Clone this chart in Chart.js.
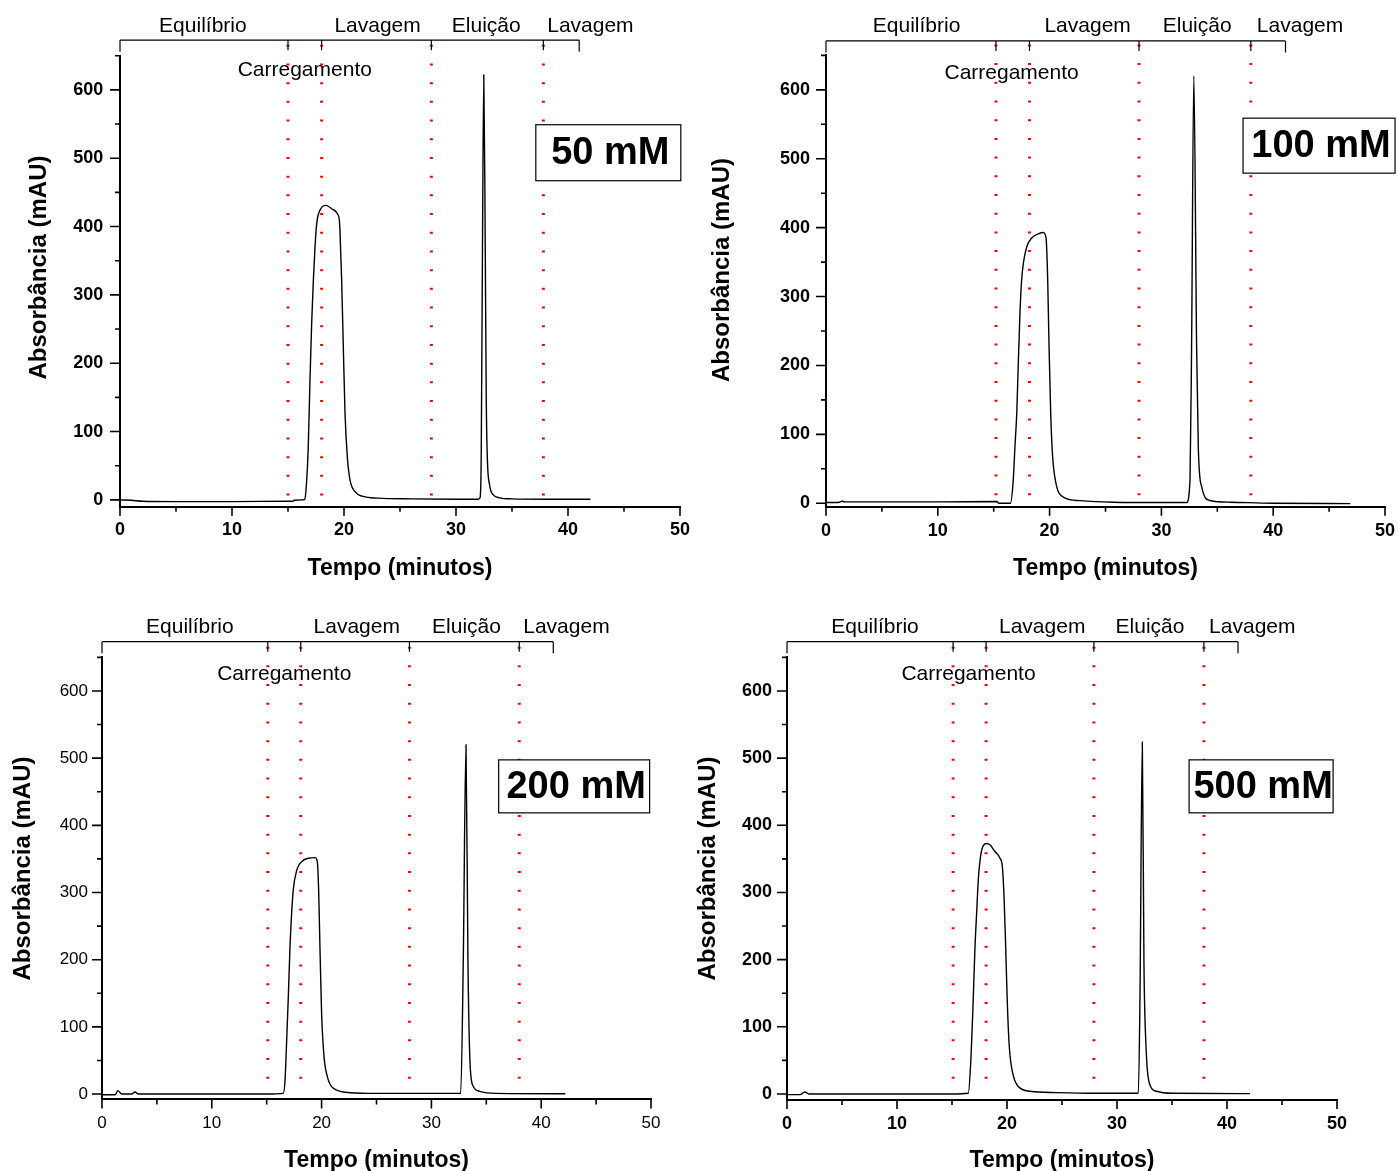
<!DOCTYPE html>
<html><head><meta charset="utf-8">
<script src="https://cdn.jsdelivr.net/npm/chart.js@4"></script>
<style>
html,body{margin:0;padding:0;background:#fff;width:1398px;height:1171px;overflow:hidden;position:relative}
canvas{position:absolute}
</style></head><body>
<canvas id="c1"></canvas><canvas id="c2"></canvas><canvas id="c3"></canvas><canvas id="c4"></canvas>
<script>
const FONT = '"Liberation Sans", Arial, Helvetica, sans-serif';

// ---- data (time in minutes, absorbance in mAU) ----
const t50 = [0,1,2,5,10,15,15.45,15.55,16.3,16.5,16.67,16.81,16.96,17.11,17.26,17.41,17.56,17.86,18.39,18.9,19.44,19.58,19.64,19.79,19.94,20.09,20.3,20.54,20.98,21.7,23,26,30,32.0,32.15,32.25,32.35,32.48,32.6,32.7,32.8,33.0,33.3,33.9,35,38,42];
const a50 = [0,-0.5,-2,-2.5,-2.5,-2,-2,-0.5,0,1,29,78,174,257,320,369,404,424,431,426,418,410,394,322,223,127,62,29,12,5,2.5,1.5,1,1,3,60,330,622,400,150,60,22,8,3,1.5,1,1];

const t100 = [0,1.2,1.4,1.7,5,10,15.3,15.45,16.5,16.75,16.9,17.06,17.2,17.35,17.5,17.65,17.95,18.4,19.0,19.44,19.68,19.83,19.95,20.1,20.27,20.57,21.23,22.7,25.7,30,32.26,32.56,32.7,32.9,33.15,33.3,33.6,34.35,36.2,40,46.9];
const a100 = [1,1.5,3,2,2,2,2.5,0,0,34,82,130,203,276,324,348,372,385,391,393,385,324,227,130,68,29,9,3.8,1.5,1,1,34,227,620,227,82,24,4,1.5,0,-0.5];

const t200 = [0,1.2,1.45,1.8,2.7,3.0,3.3,5,10,15,16.51,16.67,16.82,16.97,17.12,17.27,17.42,17.73,18.19,18.79,19.4,19.61,19.73,19.85,20.0,20.22,20.52,21.07,22.6,25,30,32.67,32.9,33.15,33.33,33.52,33.8,34.4,36,42.2];
const a200 = [-1,-1,5,0,0,3,0,0,0,0,1,21,80,145,219,269,304,333,346,351,352,346,304,219,120,56,26,8.5,2,1,1,1,195,520,195,46,12,4,1,0.5];

const t500 = [0,1.2,1.6,2.0,5,10,15,16.48,16.7,16.85,16.94,17.09,17.24,17.39,17.55,17.79,18.15,18.45,18.9,19.36,19.58,19.73,19.88,20.03,20.21,20.52,21.03,22.1,24.5,28,31.94,32.09,32.3,32.45,32.64,32.94,33.6,35,42.1];
const a500 = [-1,-1,3,0,0,0,0,1,46,105,145,219,269,319,348,368,373,371,361,351,338,294,219,135,70,31,11,4,2,1,1,145,524,195,70,16,4,1,0.5];

// phase boundaries (minutes)
const marks50 = [15, 18, 27.8, 37.8];
const marks100 = [15.2, 18.2, 28, 38];
const marks200 = [15.1, 18.1, 28, 38];
const marks500 = [15.1, 18.1, 27.9, 37.9];

const stageNames = ['Equilíbrio', 'Carregamento', 'Lavagem', 'Eluição', 'Lavagem'];
const concLabels = ['50 mM', '100 mM', '200 mM', '500 mM'];
const xTicks = [0, 10, 20, 30, 40, 50];
const yTicks = [0, 100, 200, 300, 400, 500, 600];
const xTitle = 'Tempo (minutos)';
const yTitle = 'Absorbância (mAU)';

// ---- layout ----
const panels = [
  {id:'c1', t:t50, a:a50, marks:marks50, box:concLabels[0],
   canvas:{left:0,top:0,w:699,h:590}, area:{left:120,right:680,top:55.7,bottom:506.7}, yMin:-10,
   stageX:[7.4,16.5,23.0,32.7,42.0], bracketEnd:41, bracketGap:15.5, carrY:20.5,
   boxC:[43.6,508], boxW:145, boxH:56, bold:true, tickSize:18, yPad:16.7, xPad:12.5,
   yTitlePos:[39,267.5], xTitlePad:9.5},
  {id:'c2', t:t100, a:a100, marks:marks100, box:concLabels[1],
   canvas:{left:700,top:0,w:698,h:590}, area:{left:826,right:1385,top:55.4,bottom:506.7}, yMin:-5,
   stageX:[8.1,16.6,23.4,33.2,42.4], bracketEnd:41.1, bracketGap:14.5, carrY:23.5,
   boxC:[44.1,519], boxW:152, boxH:55, bold:true, tickSize:18, yPad:16, xPad:13.5,
   yTitlePos:[722,270], xTitlePad:9.5},
  {id:'c3', t:t200, a:a200, marks:marks200, box:concLabels[2],
   canvas:{left:0,top:590,w:690,h:581}, area:{left:102,right:651,top:657.4,bottom:1099.4}, yMin:-8,
   stageX:[8.0,16.6,23.2,33.2,42.3], bracketEnd:41.1, bracketGap:15.7, carrY:22.5,
   boxC:[43.0,458], boxW:151, boxH:53, bold:false, tickSize:17, yPad:14, xPad:14,
   yTitlePos:[23,868.5], xTitlePad:-1.5},
  {id:'c4', t:t500, a:a500, marks:marks500, box:concLabels[3],
   canvas:{left:690,top:590,w:708,h:581}, area:{left:787,right:1337,top:657.4,bottom:1100}, yMin:-9,
   stageX:[8.0,16.5,23.2,33.0,42.3], bracketEnd:41, bracketGap:15.7, carrY:22.5,
   boxC:[43.1,458], boxW:144, boxH:53, bold:true, tickSize:18, yPad:15, xPad:13.5,
   yTitlePos:[708,868.5], xTitlePad:-1.5}
];

function makeOverlay(p) {
  return {
    id: 'overlay',
    afterDraw(chart) {
      const {ctx, chartArea: ca, scales: {x, y}} = chart;
      ctx.save();
      ctx.strokeStyle = '#000'; ctx.fillStyle = '#000';
      // axis ticks (major + minor)
      ctx.lineWidth = 1.6;
      ctx.beginPath();
      for (let v = 0; v <= 50; v += 5) {
        const px = x.getPixelForValue(v);
        const len = v % 10 === 0 ? 9 : 5;
        ctx.moveTo(px, ca.bottom); ctx.lineTo(px, ca.bottom + len);
      }
      for (let v = 0; v <= 650; v += 50) {
        const py = y.getPixelForValue(v);
        const len = v % 100 === 0 ? 10 : 5;
        ctx.moveTo(ca.left, py); ctx.lineTo(ca.left - len, py);
      }
      ctx.stroke();
      // phase bracket
      const yl = ca.top - p.bracketGap;
      ctx.lineWidth = 1.2;
      ctx.beginPath();
      ctx.moveTo(x.getPixelForValue(0), yl); ctx.lineTo(x.getPixelForValue(p.bracketEnd), yl);
      const bt = [0, ...p.marks, p.bracketEnd];
      bt.forEach((v, i) => {
        const px = x.getPixelForValue(v);
        const len = (i === 0 || i === bt.length - 1) ? 11.5 : 10;
        ctx.moveTo(px, yl); ctx.lineTo(px, yl + len);
      });
      ctx.stroke();
      // phase names
      ctx.font = '21px ' + FONT;
      ctx.textAlign = 'center'; ctx.textBaseline = 'alphabetic';
      stageNames.forEach((s, i) => {
        const px = x.getPixelForValue(p.stageX[i]);
        if (i === 1) ctx.fillText(s, px, ca.top + p.carrY);
        else ctx.fillText(s, px, yl - 8.5);
      });
      // concentration box
      const cx = x.getPixelForValue(p.boxC[0]), cy = y.getPixelForValue(p.boxC[1]);
      ctx.fillStyle = '#fff';
      ctx.fillRect(cx - p.boxW / 2, cy - p.boxH / 2, p.boxW, p.boxH);
      ctx.lineWidth = 1.2; ctx.strokeStyle = '#000';
      ctx.strokeRect(cx - p.boxW / 2, cy - p.boxH / 2, p.boxW, p.boxH);
      ctx.fillStyle = '#000';
      ctx.font = 'bold 38px ' + FONT;
      ctx.textBaseline = 'middle';
      ctx.fillText(p.box, cx + 2, cy + 1);
      // y axis title
      ctx.translate(p.yTitlePos[0] - p.canvas.left, p.yTitlePos[1] - p.canvas.top);
      ctx.rotate(-Math.PI / 2);
      ctx.font = 'bold 24px ' + FONT;
      ctx.textBaseline = 'middle'; ctx.textAlign = 'center';
      ctx.fillText(yTitle, 0, 0);
      ctx.restore();
    }
  };
}

panels.forEach(p => {
  const cv = document.getElementById(p.id);
  cv.width = p.canvas.w; cv.height = p.canvas.h;
  cv.style.left = p.canvas.left + 'px'; cv.style.top = p.canvas.top + 'px';
  cv.style.width = p.canvas.w + 'px'; cv.style.height = p.canvas.h + 'px';
  const yW = p.area.left - p.canvas.left;
  const xH = p.canvas.top + p.canvas.h - p.area.bottom;
  const tickFont = {family: FONT, size: p.tickSize, weight: p.bold ? 'bold' : 'normal', lineHeight: 1.2};
  const datasets = [
    {data: p.t.map((t, i) => ({x: t, y: p.a[i]})), borderColor: '#000', borderWidth: 1.4,
     pointRadius: 0, cubicInterpolationMode: 'monotone', fill: false, order: 0},
    ...p.marks.map(m => ({data: [{x: m, y: 666}, {x: m, y: 0}], borderColor: '#ff0000',
     borderWidth: 3, borderDash: [2, 16.7], pointRadius: 0, clip: false, fill: false, order: 1}))
  ];
  new Chart(cv, {
    type: 'line',
    data: {datasets},
    options: {
      responsive: false, animation: false, devicePixelRatio: 1,
      layout: {padding: {left: 0, top: p.area.top - p.canvas.top,
        right: p.canvas.left + p.canvas.w - p.area.right, bottom: 0}},
      plugins: {legend: {display: false}, tooltip: {enabled: false}},
      scales: {
        x: {
          type: 'linear', min: 0, max: 50,
          afterBuildTicks: s => { s.ticks = xTicks.map(v => ({value: v})); },
          afterFit: s => { s.height = xH; s.paddingLeft = 0; s.paddingRight = 0; },
          grid: {display: true, drawOnChartArea: false, drawTicks: false},
          border: {display: true, color: '#000', width: 2},
          ticks: {padding: p.xPad, font: tickFont, color: '#000', maxRotation: 0, autoSkip: false},
          title: {display: true, text: xTitle, color: '#000',
            font: {family: FONT, size: 23, weight: 'bold', lineHeight: 1},
            padding: {top: 0, bottom: p.xTitlePad}}
        },
        y: {
          type: 'linear', min: p.yMin, max: 650,
          afterBuildTicks: s => { s.ticks = yTicks.map(v => ({value: v})); },
          afterFit: s => { s.width = yW; s.paddingTop = 0; s.paddingBottom = 0; },
          grid: {display: true, drawOnChartArea: false, drawTicks: false},
          border: {display: true, color: '#000', width: 2},
          ticks: {padding: p.yPad, font: tickFont, color: '#000', autoSkip: false}
        }
      }
    },
    plugins: [makeOverlay(p)]
  });
});
</script>
</body></html>
